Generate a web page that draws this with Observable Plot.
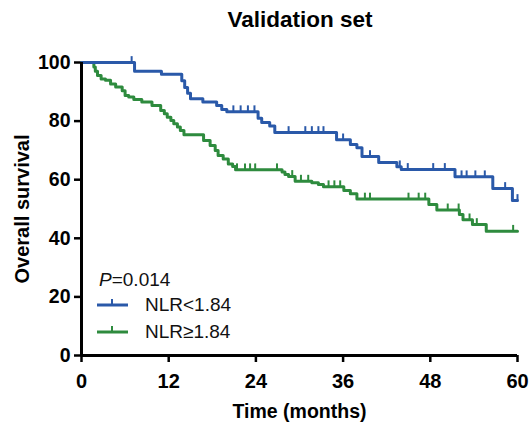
<!DOCTYPE html>
<html>
<head>
<meta charset="utf-8">
<script src="https://cdn.jsdelivr.net/npm/d3@7"></script>
<script src="https://cdn.jsdelivr.net/npm/@observablehq/plot@0.6"></script>
<style>
  body { margin: 0; background: white; font-family: "Liberation Sans", Arial, sans-serif; }
  #wrap { position: relative; width: 532px; height: 425px; overflow: hidden; }
  #title { position: absolute; left: 81px; width: 438px; top: 6px; text-align: center; font-size: 22.5px; font-weight: bold; line-height: 28px; }
  #chart { position: absolute; left: 0; top: 40px; }
  .leg { position: absolute; font-size: 19px; line-height: 22px; color: #111; }
</style>
</head>
<body>
<div id="wrap">
  <div id="title">Validation set</div>
  <div id="chart"></div>
  <div class="leg" style="left:99px; top:269px;"><i>P</i>=0.014</div>
  <svg style="position:absolute; left:0; top:0;" width="140" height="425">
    <line x1="97" x2="128" y1="305" y2="305" stroke="#2a59a9" stroke-width="3"/>
    <line x1="112" x2="112" y1="305" y2="299" stroke="#2a59a9" stroke-width="2"/>
    <line x1="97" x2="128" y1="332" y2="332" stroke="#2e8b3e" stroke-width="3"/>
    <line x1="112" x2="112" y1="332" y2="326" stroke="#2e8b3e" stroke-width="2"/>
  </svg>
  <div class="leg" style="left:145px; top:294px;">NLR&lt;1.84</div>
  <div class="leg" style="left:145px; top:321px;">NLR≥1.84</div>
</div>
<script>
// ---- Data ----
const groups = ["NLR<1.84", "NLR≥1.84"];
const colors = ["#2a59a9", "#2e8b3e"];

const xTicks = [0, 12, 24, 36, 48, 60];
const yTicks = [0, 20, 40, 60, 80, 100];

// NLR<1.84 (blue) step curve
const blueTimes = [0, 7.3, 11.0, 13.8, 14.2, 14.6, 15.0, 16.7, 18.6, 19.3, 20.0, 24.3, 24.8, 25.9, 26.6, 35.1, 37.0, 37.9, 38.6, 40.9, 43.4, 44.0, 51.4, 56.6, 59.3, 60];
const blueSurv  = [100, 97, 96, 93.8, 91.5, 89.5, 87.6, 86.5, 85.3, 84.0, 83.2, 81.0, 79.5, 78.3, 76.1, 73.6, 72.0, 70.9, 67.9, 65.9, 64.4, 63.5, 61.0, 57.0, 52.9, 52.9];
const blueCensor = [6.9, 20.9, 21.9, 22.9, 23.8, 28.5, 30.8, 31.7, 32.6, 33.3, 36.0, 39.7, 43.8, 44.9, 48.4, 50.0, 52.3, 53.0, 54.2, 55.5, 58.3, 60];

// NLR≥1.84 (green) step curve
const greenTimes = [0, 1.7, 1.9, 2.2, 2.7, 3.3, 4.0, 4.7, 5.6, 6.0, 6.5, 7.2, 8.3, 9.7, 10.9, 11.4, 11.8, 12.3, 12.7, 13.2, 13.6, 14.1, 16.8, 17.7, 18.4, 18.8, 19.5, 20.2, 20.8, 21.2, 27.6, 28.0, 28.5, 29.4, 31.7, 32.6, 33.3, 36.1, 37.0, 37.9, 47.8, 48.9, 52.0, 52.5, 53.8, 55.7, 60];
const greenSurv  = [100, 98.5, 97.0, 95.6, 94.4, 93.9, 92.7, 91.6, 90.4, 88.7, 88.2, 87.4, 86.5, 85.3, 83.6, 82.5, 81.3, 80.2, 79.1, 78.0, 76.8, 75.3, 73.4, 71.7, 70.0, 68.3, 67.1, 65.4, 64.5, 63.4, 62.6, 61.8, 61.1, 59.5, 59.0, 58.4, 57.6, 56.3, 55.2, 53.4, 51.5, 49.7, 48.1, 46.3, 44.7, 42.4, 42.4];
const greenCensor = [21.4, 22.5, 23.2, 23.9, 26.9, 29.0, 30.2, 31.2, 34.0, 34.8, 35.6, 39.0, 39.7, 45.0, 46.4, 47.3, 50.4, 51.9, 53.4, 54.4, 59.4];

// ---- Build tables ----
function curve(times, surv, g) { return times.map((t, i) => ({t, s: surv[i], g})); }
function survAt(times, surv, t) { let s = surv[0]; for (let i = 0; i < times.length; i++) if (times[i] <= t) s = surv[i]; return s; }
function censors(times, surv, cens, g) { return cens.map(t => ({t, s: survAt(times, surv, t), g})); }

const blueLine = curve(blueTimes, blueSurv, groups[0]);
const greenLine = curve(greenTimes, greenSurv, groups[1]);
const blueCens = censors(blueTimes, blueSurv, blueCensor, groups[0]);
const greenCens = censors(greenTimes, greenSurv, greenCensor, groups[1]);

const chart = Plot.plot({
  width: 532,
  height: 385,
  marginTop: 22,
  marginBottom: 70,
  marginLeft: 81,
  marginRight: 15,
  style: { fontFamily: "Liberation Sans, Arial, sans-serif", background: "white", overflow: "visible" },
  x: { domain: [0, 60] },
  y: { domain: [0, 100] },
  color: { domain: groups, range: colors },
  marks: [
    Plot.axisX({ ticks: xTicks, tickSize: 7, tickPadding: 11, fontSize: 20, fontWeight: "bold", strokeWidth: 2.5, label: null, tickFormat: d => String(d) }),
    Plot.axisY({ ticks: yTicks, tickSize: 7, tickPadding: 4, fontSize: 19.5, fontWeight: "bold", strokeWidth: 2.5, label: null, tickFormat: d => String(d) }),
    Plot.line(greenLine, { x: "t", y: "s", curve: "step-after", stroke: "g", strokeWidth: 3 }),
    Plot.ruleX(greenCens, { x: "t", y1: "s", y2: d => d.s + 2.0, stroke: "g", strokeWidth: 2 }),
    Plot.line(blueLine, { x: "t", y: "s", curve: "step-after", stroke: "g", strokeWidth: 3 }),
    Plot.ruleX(blueCens, { x: "t", y1: "s", y2: d => d.s + 2.0, stroke: "g", strokeWidth: 2 }),
    Plot.ruleX([0], { stroke: "black", strokeWidth: 3 }),
    Plot.ruleY([0], { stroke: "black", strokeWidth: 3 }),
    Plot.text(["Overall survival"], { frameAnchor: "left", textAnchor: "middle", lineAnchor: "middle", rotate: -90, dx: -59, fontSize: 20, fontWeight: "bold", fill: "black" }),
    Plot.text(["Time (months)"], { frameAnchor: "bottom", textAnchor: "middle", lineAnchor: "middle", dy: 56, fontSize: 19.5, fontWeight: "bold", fill: "black" })
  ]
});
document.getElementById("chart").appendChild(chart);
</script>
</body>
</html>
